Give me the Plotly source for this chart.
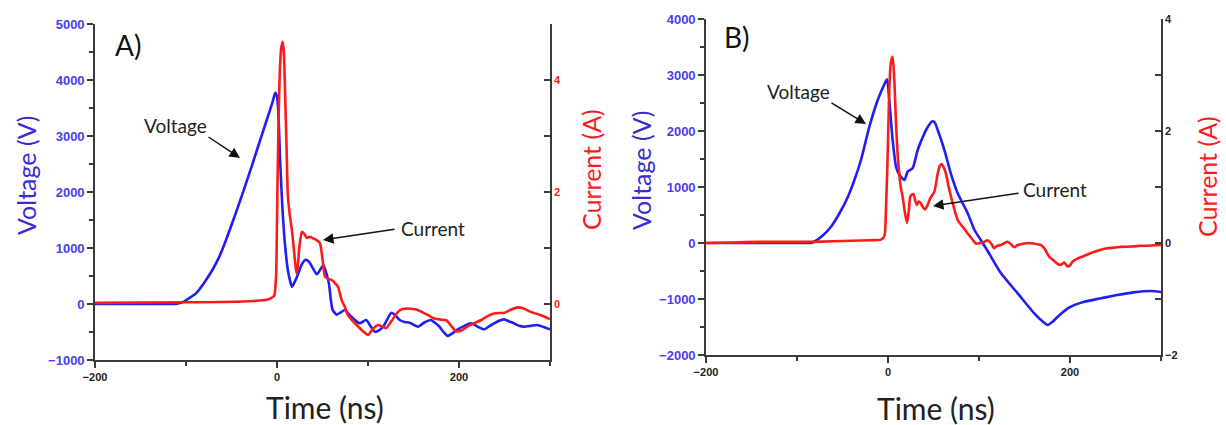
import plotly.graph_objects as go

# ---------------- Panel A data ----------------
tA_v = [-200, -150, -120, -110, -104, -97, -89, -80, -71, -63,
        -56, -48, -40, -31, -22, -12, -5, -1.9, 0, 1.5,
        3.6, 6, 9, 12, 16.4, 19, 22, 27, 31, 35,
        39, 43.7, 47, 51, 54, 57, 61, 65.6, 70, 74.6,
        80, 85.6, 91, 98, 103, 107.5, 112, 116.6, 121, 125.7,
        130, 134.8, 140, 145.7, 150, 155, 162, 169, 174, 178.5,
        183, 187.6, 193, 198.6, 206, 213, 220, 227.6, 233, 238.6,
        244, 249.5, 255, 260.5, 266, 271.4, 279, 286, 293, 300]
vA = [0, 0, 0, 5, 30, 100, 190, 380, 607, 860,
      1143, 1500, 1870, 2300, 2750, 3250, 3600, 3773, 3700, 3400,
      2500, 1700, 1023, 600, 310, 380, 488, 700, 786, 760,
      650, 530, 600, 696, 560, 370, -100, -190, -150, -107,
      -200, -286, -345, -286, -400, -494, -470, -405, -280, -155,
      -200, -286, -320, -333, -370, -405, -330, -286, -340, -405,
      -500, -571, -520, -452, -390, -345, -400, -452, -400, -345,
      -300, -274, -310, -345, -390, -405, -390, -375, -410, -452]

tA_i = [-200, -100, -30, -10, -5, -3, -1, 0, 1, 2,
        3, 4.5, 6.2, 7.5, 9, 10.5, 12, 14, 16.4, 19,
        21, 22, 24.5, 27.3, 30, 33, 36, 40, 43.7, 47.3,
        50, 52.8, 56, 60, 64, 67, 71, 74.5, 78, 83,
        89, 94, 100, 105, 111, 115, 120, 126, 133, 138,
        144, 150, 155, 160, 166, 173, 180, 186, 191, 197,
        203, 209.5, 217, 224, 231, 238.6, 244, 249.5, 256, 264,
        271, 278.7, 290, 300]
iA = [0.02, 0.03, 0.05, 0.08, 0.12, 0.15, 0.5, 1.5, 2.6, 3.5,
      4.1, 4.55, 4.68, 4.5, 3.7, 2.8, 1.92, 1.6, 1.32, 0.9,
      0.6, 0.55, 1.0, 1.29, 1.25, 1.18, 1.2, 1.17, 1.14, 1.08,
      0.8, 0.49, 0.45, 0.43, 0.37, 0.31, 0.07, -0.05, -0.2, -0.3,
      -0.4, -0.48, -0.55, -0.45, -0.375, -0.4, -0.43, -0.3, -0.14, -0.09,
      -0.08, -0.09, -0.11, -0.15, -0.2, -0.26, -0.28, -0.29, -0.38, -0.49,
      -0.47, -0.4, -0.34, -0.29, -0.22, -0.17, -0.16, -0.16, -0.11, -0.06,
      -0.08, -0.14, -0.2, -0.27]

# ---------------- Panel B data ----------------
tB_v = [-200, -120, -90, -84.6, -81, -72, -62.6, -53, -44, -37,
        -29.7, -20.5, -11.3, -5, -1.1, 1.4, 5.1, 8.8, 12, 14.3,
        18, 21.6, 27, 32.6, 40, 44, 48, 51, 54.6, 62,
        69, 76.6, 87.6, 95, 102, 111, 124, 142.5, 160.7, 170,
        175.5, 181, 186.5, 197.5, 206, 215.7, 234, 252, 270, 289,
        300]
vB = [0, 0, 0, 0, 23, 130, 291, 540, 827, 1120,
      1482, 2077, 2553, 2800, 2922, 2553, 1840, 1363, 1230, 1184,
      1125, 1274, 1333, 1660, 1958, 2080, 2167, 2160, 2018, 1660,
      1244, 887, 530, 232, 54, -184, -536, -899, -1256, -1400,
      -1464, -1405, -1316, -1166, -1100, -1048, -988, -929, -881, -857,
      -875]

tB_i = [-200, -170, -140, -110, -84.6, -60, -40, -20, -7.7, -4,
        -2.2, 0, 1.4, 3, 5.1, 7, 8.8, 10.5, 12.4, 14,
        16, 18.5, 21, 23, 24.5, 26, 28, 30, 31.9, 33.7,
        35.5, 38, 40.7, 43, 46.5, 51, 54.6, 57, 59, 61,
        63.7, 66, 69.2, 73, 76.6, 80, 84, 87.6, 92, 96.7,
        101, 105.8, 109.5, 113, 116.8, 120, 124, 128, 131.5, 135,
        138.8, 142, 146, 150, 155, 160, 168, 172, 177, 181,
        184.6, 187, 190, 193.8, 197.5, 200, 203, 208, 214, 220,
        226.7, 234, 241.4, 250, 256, 263.4, 270, 278, 285, 292,
        300]
iB = [0.0, 0.01, 0.02, 0.02, 0.02, 0.03, 0.04, 0.05, 0.06, 0.12,
      0.6, 1.8, 2.73, 3.2, 3.33, 2.9, 2.14, 1.6, 1.24, 1.0,
      0.83, 0.55, 0.36, 0.6, 0.83, 0.86, 0.875, 0.75, 0.68, 0.74,
      0.72, 0.65, 0.6, 0.66, 0.8, 0.92, 1.24, 1.38, 1.41, 1.36,
      1.24, 1.05, 0.83, 0.6, 0.41, 0.33, 0.25, 0.17, 0.08, -0.01,
      0.0, 0.02, 0.05, 0.0, -0.095, -0.05, -0.036, 0.0, 0.023, -0.02,
      -0.077, -0.04, -0.023, -0.01, 0.0, -0.01, -0.036, -0.1, -0.24, -0.3,
      -0.35, -0.38, -0.39, -0.35, -0.42, -0.4, -0.33, -0.28, -0.24, -0.2,
      -0.155, -0.12, -0.095, -0.08, -0.07, -0.066, -0.06, -0.048, -0.05, -0.04,
      -0.036]

x_ticks = [-200, 0, 200]
vA_ticks = [-1000, 0, 1000, 2000, 3000, 4000, 5000]
vB_ticks = [-2000, -1000, 0, 1000, 2000, 3000, 4000]
iA_ticks = [0, 2, 4]
iB_ticks = [-2, 0, 2, 4]

W, H = 1226, 425
BLUE = "#1f1ff5"
RED = "#ff1a1a"
TICKBLUE = "#4b3cf2"
TITLEBLUE = "#3a2bd6"
AXC = "#3a3a3a"
FONT = "Lato"
TICKFONT = "Liberation Sans"

def px(x):
    return x / W

def py(y):
    return 1 - y / H

fig = go.Figure()
line_kw = dict(shape="spline", smoothing=0.6, width=2.6)
fig.add_trace(go.Scatter(x=tA_v, y=vA, xaxis="x", yaxis="y", mode="lines",
                         line=dict(color=BLUE, **line_kw), showlegend=False))
fig.add_trace(go.Scatter(x=tA_i, y=iA, xaxis="x", yaxis="y2", mode="lines",
                         line=dict(color=RED, **line_kw), showlegend=False))
fig.add_trace(go.Scatter(x=tB_v, y=vB, xaxis="x2", yaxis="y3", mode="lines",
                         line=dict(color=BLUE, **line_kw), showlegend=False))
fig.add_trace(go.Scatter(x=tB_i, y=iB, xaxis="x2", yaxis="y4", mode="lines",
                         line=dict(color=RED, **line_kw), showlegend=False))

ax_common = dict(showline=True, linecolor=AXC, linewidth=1.6, showgrid=False,
                 zeroline=False, ticklen=6, tickwidth=1.5, tickcolor=AXC,
                 automargin=False)

def xax(domain, anchor):
    return dict(domain=domain, anchor=anchor, range=[-200, 300],
                tickvals=x_ticks, ticks="outside",
                tickfont=dict(family=TICKFONT, size=11, color="#222", weight="bold"),
                minor=dict(dtick=100, tick0=-200, ticks="outside", ticklen=4,
                           tickcolor=AXC, tickwidth=1.5),
                **ax_common)

def vax(domain, anchor, rng, ticks):
    return dict(domain=domain, anchor=anchor, range=rng, tickvals=ticks,
                ticks="outside",
                tickfont=dict(family=TICKFONT, size=13, color=TICKBLUE, weight="bold"),
                minor=dict(dtick=500, tick0=0, ticks="outside", ticklen=4,
                           tickcolor=AXC, tickwidth=1.5),
                **ax_common)

def iax(overlay, anchor, rng, ticks, color):
    return dict(overlaying=overlay, anchor=anchor, side="right", range=rng,
                tickvals=ticks, ticks="inside",
                tickfont=dict(family=TICKFONT, size=11, color=color, weight="bold"),
                minor=dict(dtick=1, tick0=0, ticks="inside", ticklen=6,
                           tickcolor=AXC, tickwidth=1.5),
                **ax_common)

domA_x = [px(95), px(550)]
domA_y = [py(360), py(24)]
domB_x = [px(706), px(1161)]
domB_y = [py(355), py(19)]

fig.update_layout(
    width=W, height=H, margin=dict(l=0, r=0, t=0, b=0, pad=0, autoexpand=False),
    paper_bgcolor="white", plot_bgcolor="white", autosize=False,
    xaxis=xax(domA_x, "y"),
    yaxis=vax(domA_y, "x", [-1000, 5000], vA_ticks),
    yaxis2=iax("y", "x", [-1, 5], iA_ticks, RED),
    xaxis2=xax(domB_x, "y3"),
    yaxis3=vax(domB_y, "x2", [-2000, 4000], vB_ticks),
    yaxis4=iax("y3", "x2", [-2, 4], iB_ticks, "#222"),
)

anns = []

def txt(x, y, s, size, color="#222", angle=0):
    anns.append(dict(x=px(x), y=py(y), xref="paper", yref="paper", text=s,
                     showarrow=False, textangle=angle, xanchor="center", yanchor="middle",
                     font=dict(family=FONT, size=size, color=color)))

def arrow(x0, y0, x1, y1):
    anns.append(dict(x=px(x1), y=py(y1), xref="paper", yref="paper", text="",
                     showarrow=True, ax=x0 - x1, ay=y0 - y1, arrowhead=2,
                     arrowsize=1.4, arrowwidth=1.5, arrowcolor="#111"))

# axis titles
txt(26, 175, "Voltage (V)", 25, TITLEBLUE, -90)
txt(591, 170, "Current (A)", 25, RED, -90)
txt(641, 170, "Voltage (V)", 25, TITLEBLUE, -90)
txt(1207, 177, "Current (A)", 25, RED, -90)
txt(325, 407, "Time (ns)", 30)
txt(936, 408, "Time (ns)", 30)
# panel labels
txt(128, 45, "A)", 28, "#111")
txt(737, 37, "B)", 28, "#111")
# curve labels
txt(175, 125, "Voltage", 19)
txt(433, 228, "Current", 19)
txt(798, 92, "Voltage", 19)
txt(1055, 190, "Current", 19)
arrow(207, 136, 240, 158)
arrow(396, 229, 323, 240)
arrow(830, 102, 866, 124)
arrow(1020, 193, 933, 206)

fig.update_layout(annotations=anns)
fig.write_html("out.html",
               post_script="document.body.style.margin='0';document.body.style.overflow='hidden';")
